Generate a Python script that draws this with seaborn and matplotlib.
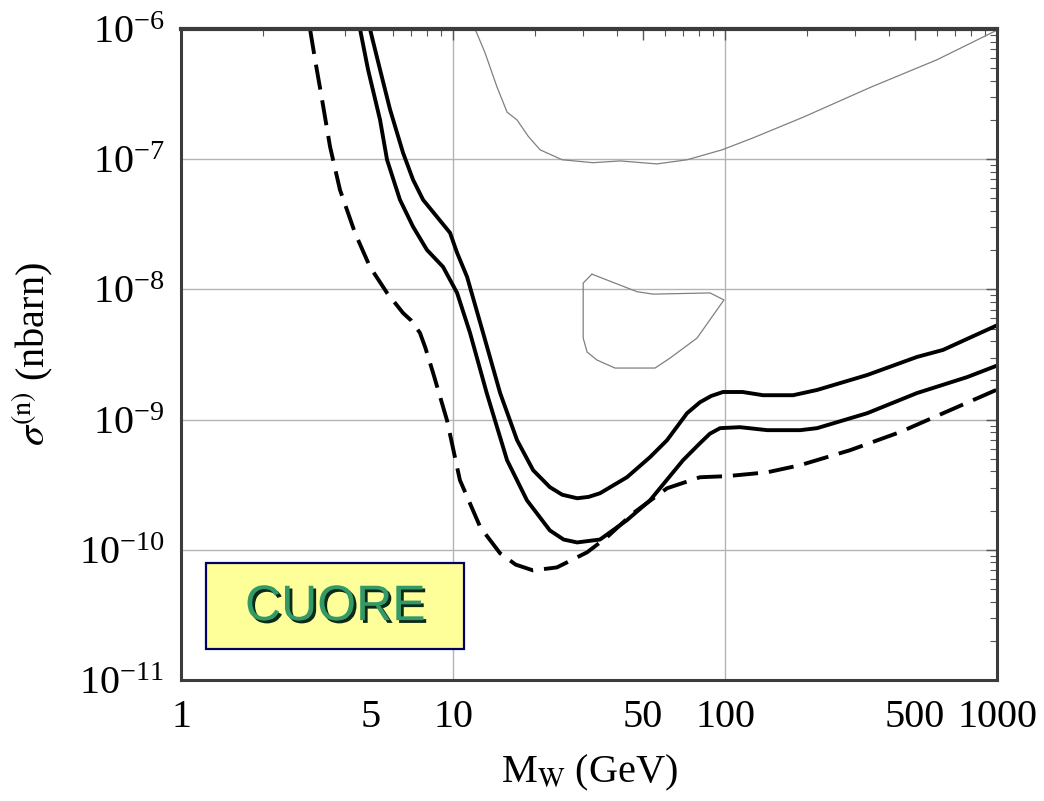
import matplotlib
matplotlib.use("Agg")
import matplotlib.pyplot as plt
import matplotlib.patheffects as pe
from matplotlib.patches import Rectangle
from matplotlib.ticker import FixedLocator, LogLocator, NullFormatter
import seaborn as sns

# --- data (mass in GeV, cross section in nbarn) ---
upper_mass = [4.95, 5.39, 5.87, 6.55, 7.13, 7.76, 8.73, 9.75, 10.35, 11.26, 12.9,
              14.9, 17.2, 19.7, 22.7, 25.2, 28.6, 31.5, 34.7, 43.6, 53.0, 61.2,
              72.5, 80.9, 89.0, 98.3, 116, 138, 178, 218, 333, 508, 633, 1000]
upper_sigma = [1e-6, 4.88e-7, 2.40e-7, 1.12e-7, 6.95e-8, 4.88e-8, 3.61e-8, 2.72e-8,
               1.91e-8, 1.25e-8, 4.63e-9, 1.6e-9, 6.95e-10, 4.09e-10, 3.03e-10,
               2.65e-10, 2.49e-10, 2.55e-10, 2.72e-10, 3.61e-10, 5.15e-10, 6.95e-10,
               1.12e-9, 1.36e-9, 1.52e-9, 1.63e-9, 1.63e-9, 1.54e-9, 1.54e-9,
               1.69e-9, 2.2e-9, 3.03e-9, 3.43e-9, 5.3e-9]

lower_mass = [4.55, 4.87, 5.39, 5.72, 6.38, 7.13, 8.02, 9.19, 10.35, 11.55, 13.3,
              15.8, 18.7, 22.7, 25.5, 28.6, 34.7, 43.6, 53.0, 70.1, 80.9, 88.0,
              95.9, 113.5, 143, 189, 218, 333, 508, 776, 1000]
lower_sigma = [1e-6, 4.88e-7, 2.01e-7, 9.9e-8, 4.88e-8, 3.03e-8, 2.01e-8, 1.49e-8,
               9.4e-9, 4.63e-9, 1.6e-9, 4.88e-10, 2.4e-10, 1.41e-10, 1.2e-10,
               1.14e-10, 1.2e-10, 1.69e-10, 2.4e-10, 4.88e-10, 6.59e-10, 7.8e-10,
               8.6e-10, 8.75e-10, 8.3e-10, 8.3e-10, 8.6e-10, 1.12e-9, 1.6e-9,
               2.12e-9, 2.6e-9]

dashed_mass = [2.98, 3.11, 3.30, 3.53, 3.84, 4.36, 4.95, 5.72, 6.0, 6.55, 7.0,
               7.56, 7.9, 8.45, 9.5, 10.6, 12.6, 14.9, 17.0, 19.7, 24.1, 31.1,
               36.8, 45.9, 61.2, 80.9, 101.7, 143, 189, 288, 440, 671, 1000]
dashed_sigma = [1e-6, 5.82e-7, 2.87e-7, 1.25e-7, 5.82e-8, 2.72e-8, 1.49e-8, 9.4e-9,
                8.3e-9, 6.59e-9, 5.8e-9, 4.63e-9, 3.6e-9, 2.28e-9, 9.9e-10,
                3.43e-10, 1.49e-10, 9.4e-11, 7.7e-11, 6.95e-11, 7.33e-11, 9.57e-11,
                1.25e-10, 1.91e-10, 2.97e-10, 3.61e-10, 3.68e-10, 3.94e-10,
                4.47e-10, 5.82e-10, 8.02e-10, 1.18e-9, 1.7e-9]

# thin contour at the top (open curve)
thin_mass = [12.05, 13.1, 14.5, 15.8, 17.2, 18.9, 20.9, 25.2, 32.7, 41.1, 56.2,
             72.5, 97.5, 127, 193.6, 341, 601, 1000]
thin_sigma = [1e-6, 6.6e-7, 3.6e-7, 2.3e-7, 2.0e-7, 1.5e-7, 1.18e-7, 9.9e-8,
              9.4e-8, 9.7e-8, 9.2e-8, 9.9e-8, 1.18e-7, 1.46e-7, 2.1e-7, 3.55e-7,
              5.8e-7, 9.8e-7]

# small closed region
region_mass = [32.4, 30.1, 30.1, 31.1, 33.8, 39.4, 55.3, 62.8, 78.9, 99.1, 88.1,
               54.4, 47.5, 32.4]
region_sigma = [1.31e-8, 1.12e-8, 4.23e-9, 3.31e-9, 2.87e-9, 2.49e-9, 2.49e-9,
                2.97e-9, 4.23e-9, 8.3e-9, 9.4e-9, 9.2e-9, 9.6e-9, 1.31e-8]

x_ticks = [1, 5, 10, 50, 100, 500, 1000]
x_tick_labels = ["1", "5", "10", "50", "100", "500", "1000"]
grid_x = [10, 100]
grid_y = [1e-10, 1e-9, 1e-8, 1e-7]
label_text = "CUORE"

sns.set_style("white")
plt.rcParams["font.family"] = ["Liberation Serif", "DejaVu Serif"]
plt.rcParams["mathtext.fontset"] = "stix"
plt.rcParams["mathtext.default"] = "regular"
plt.rcParams["text.color"] = "black"
plt.rcParams["axes.labelcolor"] = "black"

fig = plt.figure(figsize=(10.44, 8.01), dpi=100)
ax = fig.add_axes([0.1734, 0.151, 0.7816, 0.8128])
ax.set_xscale("log")
ax.set_yscale("log")
ax.set_xlim(1, 1000)
ax.set_ylim(1e-11, 1e-6)

# grid (only decades, as in the original)
for gx in grid_x:
    ax.axvline(gx, color="#b4b4b4", lw=1.0, zorder=0)
for gy in grid_y:
    ax.axhline(gy, color="#b4b4b4", lw=1.0, zorder=0)

thin_color = "#808080"
sns.lineplot(x=thin_mass, y=thin_sigma, sort=False, estimator=None, ax=ax,
             color=thin_color, linewidth=0.9)
sns.lineplot(x=region_mass, y=region_sigma, sort=False, estimator=None, ax=ax,
             color=thin_color, linewidth=0.9)
sns.lineplot(x=upper_mass, y=upper_sigma, sort=False, estimator=None, ax=ax,
             color="black", linewidth=2.8)
sns.lineplot(x=lower_mass, y=lower_sigma, sort=False, estimator=None, ax=ax,
             color="black", linewidth=2.8)
sns.lineplot(x=dashed_mass, y=dashed_sigma, sort=False, estimator=None, ax=ax,
             color="black", linewidth=2.8, linestyle=(0, (6.5, 2.8)))

for line in ax.lines:
    line.set_solid_joinstyle("round")
    line.set_dash_joinstyle("round")

# ticks
ax.xaxis.set_major_locator(FixedLocator(x_ticks))
ax.set_xticklabels(x_tick_labels)
ax.xaxis.set_minor_locator(LogLocator(base=10, subs=range(2, 10), numticks=20))
ax.xaxis.set_minor_formatter(NullFormatter())
ax.yaxis.set_major_locator(FixedLocator([1e-11, 1e-10, 1e-9, 1e-8, 1e-7, 1e-6]))
ax.yaxis.set_minor_locator(LogLocator(base=10, subs=range(2, 10), numticks=20))
ax.yaxis.set_minor_formatter(NullFormatter())
ax.tick_params(which="both", direction="in", top=True, right=True,
               color="#555555", labelcolor="black", labelsize=29)
ax.tick_params(which="major", length=8, width=1)
ax.tick_params(which="minor", length=5, width=0.8)
ax.tick_params(axis="x", pad=14)
ax.tick_params(axis="y", pad=12)

for side, spine in ax.spines.items():
    spine.set_color("#3c3c3c")
    spine.set_linewidth(2.2)
ax.spines["top"].set_linewidth(3)

ax.set_xlabel(r"M$_{\rm W}$ (GeV)", fontsize=29, labelpad=12)
ax.set_ylabel(r"$\mathit{\sigma}^{\rm (n)}$ (nbarn)", fontsize=29, labelpad=16)

# CUORE label box
box = Rectangle((0.031, 0.0476), 0.316, 0.132, transform=ax.transAxes,
                facecolor="#ffff99", edgecolor="#000066", linewidth=1.6, zorder=5)
ax.add_patch(box)
ax.text(0.189, 0.112, label_text, transform=ax.transAxes, ha="center", va="center",
        fontsize=36, family=["Liberation Sans", "DejaVu Sans"], color="#339966",
        zorder=6,
        path_effects=[pe.SimplePatchShadow(offset=(2, -2), shadow_rgbFace="#0b2a18",
                                           alpha=1.0),
                      pe.Normal()])

fig.savefig("out.png", dpi=100)
